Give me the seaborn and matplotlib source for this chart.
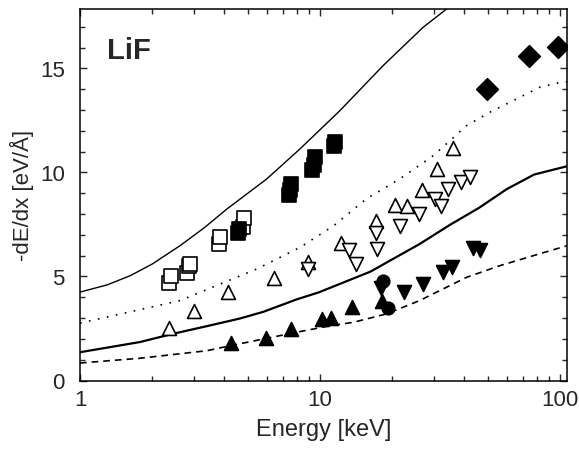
"""
LiF stopping power vs. energy — recreated with seaborn/matplotlib.
"""

import matplotlib
matplotlib.use("Agg")
import matplotlib.pyplot as plt
import matplotlib.ticker as mticker
import pandas as pd
import seaborn as sns

# ─────────────────────────────────────────────────────────────────────────────
# DATA
# ─────────────────────────────────────────────────────────────────────────────

# open squares
e_open_sq = [2.35, 2.4, 2.8, 2.85, 2.87, 3.8, 3.82, 4.8, 4.82]
y_open_sq = [4.7, 5.0, 5.15, 5.5, 5.6, 6.55, 6.9, 7.4, 7.8]

# filled squares
e_fill_sq = [4.55, 4.6, 7.45, 7.5, 7.55, 9.3, 9.4, 9.5, 11.4, 11.5]
y_fill_sq = [7.1, 7.3, 8.9, 9.15, 9.45, 10.1, 10.35, 10.75, 11.25, 11.45]

# filled diamonds
e_diamond = [49.5, 74.0, 98.5]
y_diamond = [14.0, 15.6, 16.05]

# open up-triangles
e_open_up = [2.35, 3.0, 4.15, 6.45, 8.9, 12.2, 17.2, 20.5, 23.1, 26.5, 30.6, 35.9]
y_open_up = [2.5, 3.35, 4.25, 4.95, 5.68, 6.62, 7.68, 8.45, 8.37, 9.17, 10.17, 11.18]

# open down-triangles
e_open_dn = [8.9, 13.2, 14.1, 17.2, 17.3, 21.5, 25.9, 30.1, 31.8, 34.2, 38.6, 42.2]
y_open_dn = [5.36, 6.27, 5.6, 7.08, 6.32, 7.41, 8.0, 8.73, 8.4, 9.2, 9.53, 9.77]

# filled up-triangles
e_fill_up = [4.25, 5.95, 7.55, 10.2, 11.1, 13.6, 18.1]
y_fill_up = [1.8, 2.03, 2.48, 2.95, 3.0, 3.52, 3.8]

# filled down-triangles
e_fill_dn = [18.0, 22.4, 26.8, 32.6, 35.4, 43.5, 46.5]
y_fill_dn = [4.45, 4.25, 4.64, 5.2, 5.44, 6.35, 6.25]

# filled circles
e_circle = [18.3, 19.2]
y_circle = [4.8, 3.5]

# theory curves
e_curve_top = [1, 1.3, 1.62, 2.0, 2.61, 3.3, 4.1, 6.0, 8.25, 12.1, 18.3, 26.9, 33.7, 36.0]
y_curve_top = [4.25, 4.6, 5.04, 5.6, 6.48, 7.35, 8.25, 9.69, 11.13, 12.97, 15.13, 16.98, 17.86, 18.3]

e_curve_dot = [1, 2.61, 5.45, 8.26, 11.4, 15.6, 21.5, 29.6, 40.8, 51.1, 65.0, 82.5, 101, 107]
y_curve_dot = [2.76, 3.84, 5.36, 6.4, 7.44, 8.73, 9.69, 10.8, 12.25, 12.9, 13.5, 14.1, 14.34, 14.36]

e_curve_mid = [1, 1.78, 2.45, 3.4, 4.64, 5.8, 8.0, 9.9, 16.2, 26.0, 35.0, 46.0, 60.0, 78.0, 107]
y_curve_mid = [1.36, 1.85, 2.25, 2.62, 2.98, 3.3, 3.9, 4.24, 5.23, 6.56, 7.5, 8.3, 9.2, 9.9, 10.3]

e_curve_dash = [1, 1.78, 3.37, 4.22, 8.0, 11.0, 13.8, 18.9, 26.0, 40.8, 56.2, 77.4, 107]
y_curve_dash = [0.84, 1.07, 1.43, 1.67, 2.32, 2.63, 2.8, 3.2, 3.84, 4.96, 5.52, 6.0, 6.48]

x_ticks = [1, 10, 100]
x_tick_labels = ["1", "10", "100"]
y_ticks = [0, 5, 10, 15]


# ─────────────────────────────────────────────────────────────────────────────
# PLOT
# ─────────────────────────────────────────────────────────────────────────────

sns.set_style("ticks")
plt.rcParams["font.family"] = ["Liberation Sans", "DejaVu Sans"]

fig = plt.figure(figsize=(5.79, 4.52), dpi=100)
ax = fig.add_axes([80 / 579, 70.5 / 452, 487 / 579, 371.5 / 452])

curves = [
    (e_curve_top, y_curve_top, "-", 1.0),
    (e_curve_dot, y_curve_dot, (0, (1, 4.5)), 1.2),
    (e_curve_mid, y_curve_mid, "-", 1.6),
    (e_curve_dash, y_curve_dash, (0, (4, 3)), 1.2),
]
for e, y, ls, lw in curves:
    sns.lineplot(x=e, y=y, ax=ax, color="black", linestyle=ls, linewidth=lw,
                 sort=False, estimator=None)

# (x, y, marker, size, filled)
series = [
    (e_open_sq, y_open_sq, "s", 9.5, False),
    (e_fill_sq, y_fill_sq, "s", 9.5, True),
    (e_diamond, y_diamond, "D", 11, True),
    (e_open_up, y_open_up, "^", 10, False),
    (e_open_dn, y_open_dn, "v", 10, False),
    (e_fill_up, y_fill_up, "^", 10, True),
    (e_fill_dn, y_fill_dn, "v", 10, True),
    (e_circle, y_circle, "o", 9, True),
]
for e, y, mk, ms, filled in series:
    df = pd.DataFrame({"energy": e, "dedx": y})
    sns.scatterplot(
        data=df, x="energy", y="dedx", ax=ax,
        marker=mk, s=ms ** 2,
        facecolor="black" if filled else "white",
        edgecolor="black", linewidth=1.2, zorder=3,
    )

ax.set_xscale("log")
ax.set_xlim(1, 107)
ax.set_ylim(0, 17.86)
ax.set_xticks(x_ticks)
ax.set_xticklabels(x_tick_labels)
ax.xaxis.set_minor_locator(mticker.LogLocator(base=10, subs=range(2, 10)))
ax.xaxis.set_minor_formatter(mticker.NullFormatter())
ax.set_yticks(y_ticks)
ax.yaxis.set_minor_locator(mticker.MultipleLocator(1))

ax.tick_params(which="both", direction="in", top=True, right=True,
               labelsize=16, width=1.0)
ax.tick_params(axis="x", which="major", pad=6)
ax.tick_params(axis="y", which="major", pad=11)
ax.tick_params(which="major", length=5)
ax.tick_params(which="minor", length=3.5)
for sp in ax.spines.values():
    sp.set_linewidth(1.1)
    sp.set_color("black")

ax.set_xlabel("Energy [keV]", fontsize=17, labelpad=6)
ax.set_ylabel("-dE/dx [eV/Å]", fontsize=16, labelpad=4)

ax.text(0.055, 0.89, "LiF", transform=ax.transAxes, fontsize=21,
        fontweight="bold", va="center", ha="left")

plt.savefig("out.png", dpi=100)
